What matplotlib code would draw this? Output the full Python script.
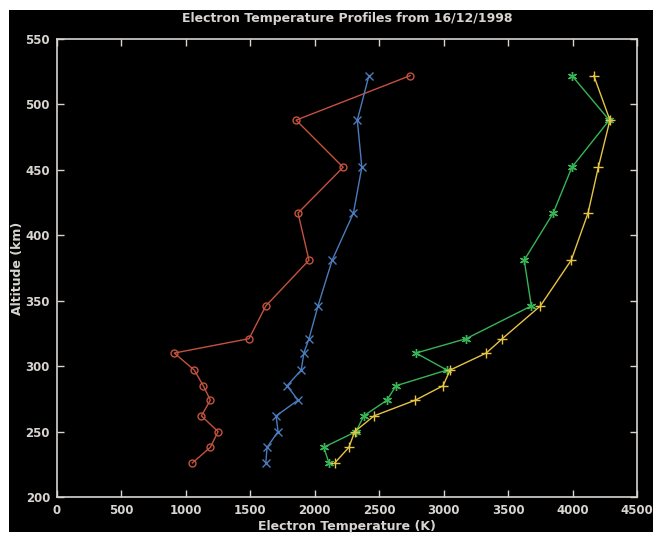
import matplotlib
matplotlib.use("Agg")
import matplotlib.pyplot as plt
from matplotlib.patches import Rectangle

# altitude levels (km) shared by all profiles
altitude = [522, 488, 452, 417, 381, 346, 321, 310, 297, 285, 274, 262, 250, 238, 226]

# electron temperature profiles (K)
temp_red = [2740, 1855, 2220, 1870, 1955, 1620, 1490, 910, 1065, 1135, 1190, 1120, 1250, 1190, 1050]
temp_blue = [2420, 2330, 2365, 2300, 2135, 2025, 1955, 1915, 1895, 1785, 1870, 1700, 1715, 1630, 1620]
temp_green = [3995, 4285, 3995, 3850, 3625, 3680, 3175, 2785, 3025, 2630, 2560, 2380, 2320, 2070, 2110]
temp_yellow = [4165, 4290, 4200, 4120, 3990, 3750, 3455, 3330, 3050, 2995, 2780, 2460, 2310, 2265, 2155]

x_ticks = [0, 500, 1000, 1500, 2000, 2500, 3000, 3500, 4000, 4500]
y_ticks = [200, 250, 300, 350, 400, 450, 500, 550]

fg = '#d8d4d0'

fig = plt.figure(figsize=(6.53, 5.39), dpi=100, facecolor='white')
fig.add_artist(Rectangle((9 / 653, 7 / 539), 644 / 653, 522 / 539,
                         transform=fig.transFigure, facecolor='black',
                         edgecolor='none', zorder=-10))
ax = fig.add_axes([57 / 653, 1 - 497 / 539, 580 / 653, 458 / 539])
ax.set_facecolor('black')

ax.plot(temp_red, altitude, color='#c4523e', marker='o', markersize=5,
        markerfacecolor='none', linewidth=1.0)
ax.plot(temp_blue, altitude, color='#4a7cbc', marker='x', markersize=5.5,
        linewidth=1.0)
ax.plot(temp_green, altitude, color='#38b456', marker=(6, 2, 0), markersize=6.5,
        linewidth=1.0)
ax.plot(temp_yellow, altitude, color='#e6c444', marker='+', markersize=6.5,
        linewidth=1.0)

ax.set_xlim(0, 4500)
ax.set_ylim(200, 550)
ax.set_xticks(x_ticks)
ax.set_yticks(y_ticks)
for s in ax.spines.values():
    s.set_color(fg)
    s.set_linewidth(1.2)
ax.tick_params(direction='in', length=5, width=1, colors=fg, labelsize=8.5,
               top=True, right=True, pad=5)
for lab in ax.get_xticklabels() + ax.get_yticklabels():
    lab.set_fontweight('bold')

ax.set_title('Electron Temperature Profiles from 16/12/1998', color=fg,
             fontsize=9, fontweight='bold', pad=12)
ax.set_xlabel('Electron Temperature (K)', color=fg, fontsize=9,
              fontweight='bold', labelpad=2)
ax.set_ylabel('Altitude (km)', color=fg, fontsize=9, fontweight='bold',
              labelpad=1)

fig.savefig('out.png', dpi=100, facecolor='white')
